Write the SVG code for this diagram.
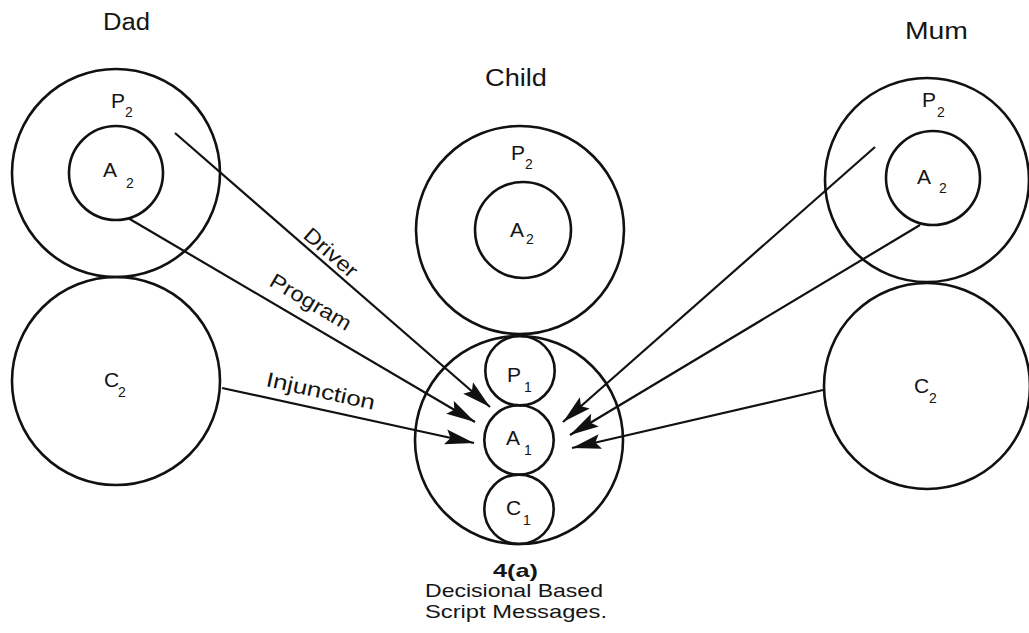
<svg xmlns="http://www.w3.org/2000/svg" width="1029" height="633" viewBox="0 0 1029 633">
<style>
.c{fill:none;stroke:#111;stroke-width:2.6}
.l{fill:none;stroke:#111;stroke-width:2.2}
text{font-family:"Liberation Sans",Arial,sans-serif;fill:#151515}
.t{font-size:23px}
.s{font-size:21px}
.sub{font-size:14px}
.lab{font-size:21px}
.cap{font-size:19px}
</style>
<defs>
<marker id="ah" viewBox="0 -8 30 16" markerWidth="30" markerHeight="16" refX="29" refY="0" orient="auto" markerUnits="userSpaceOnUse">
<path d="M0,-7.5 L29,0 L0,7.5 L5,0 z" fill="#111"/>
</marker>
</defs>
<rect width="1029" height="633" fill="#fff"/>

<g id="titles">
<text class="t" x="103" y="30" textLength="47" lengthAdjust="spacingAndGlyphs">Dad</text>
<text class="t" x="905" y="39" textLength="63" lengthAdjust="spacingAndGlyphs">Mum</text>
<text class="t" x="485" y="86" textLength="62" lengthAdjust="spacingAndGlyphs">Child</text>
</g>

<g id="dad-P2"><circle class="c" cx="116" cy="173" r="104"/>
<text class="s" x="111" y="108">P<tspan class="sub" x="125" y="117">2</tspan></text></g>
<g id="dad-A2"><circle class="c" cx="116" cy="173" r="47"/>
<text class="s" x="103" y="177">A<tspan class="sub" x="126" y="188">2</tspan></text></g>
<g id="dad-C2"><circle class="c" cx="116" cy="381" r="104"/>
<text class="s" x="104" y="387">C<tspan class="sub" x="118" y="397">2</tspan></text></g>

<g id="mum-P2"><circle class="c" cx="927" cy="180" r="102"/>
<text class="s" x="922" y="107">P<tspan class="sub" x="937" y="117">2</tspan></text></g>
<g id="mum-A2"><circle class="c" cx="933" cy="178" r="47"/>
<text class="s" x="917" y="184">A<tspan class="sub" x="939" y="193">2</tspan></text></g>
<g id="mum-C2"><circle class="c" cx="927" cy="386" r="103"/>
<text class="s" x="914" y="393">C<tspan class="sub" x="929" y="403">2</tspan></text></g>

<g id="child-P2"><circle class="c" cx="520" cy="230" r="104"/>
<text class="s" x="511" y="160">P<tspan class="sub" x="525" y="169">2</tspan></text></g>
<g id="child-A2"><circle class="c" cx="523" cy="230" r="48"/>
<text class="s" x="510" y="237">A<tspan class="sub" x="526" y="244">2</tspan></text></g>
<g id="child-lower"><circle class="c" cx="519" cy="440" r="104"/></g>
<g id="child-P1"><circle class="c" cx="520" cy="370.7" r="34.7"/>
<text class="s" x="507" y="382">P<tspan class="sub" x="524" y="392">1</tspan></text></g>
<g id="child-A1"><circle class="c" cx="519" cy="440" r="34.7"/>
<text class="s" x="506" y="445">A<tspan class="sub" x="524" y="455">1</tspan></text></g>
<g id="child-C1"><circle class="c" cx="519" cy="509.3" r="34.7"/>
<text class="s" x="506" y="515">C<tspan class="sub" x="523" y="525">1</tspan></text></g>

<g id="connectors">
<line class="l" x1="175" y1="133" x2="490" y2="407" marker-end="url(#ah)"/>
<line class="l" x1="128" y1="218" x2="475" y2="422" marker-end="url(#ah)"/>
<line class="l" x1="222" y1="388" x2="474" y2="443" marker-end="url(#ah)"/>
<line class="l" x1="875" y1="147" x2="563" y2="422" marker-end="url(#ah)"/>
<line class="l" x1="920" y1="225" x2="570" y2="435" marker-end="url(#ah)"/>
<line class="l" x1="823" y1="390" x2="572" y2="448" marker-end="url(#ah)"/>
<text class="lab" transform="translate(302,237) rotate(41)" textLength="64" lengthAdjust="spacingAndGlyphs">Driver</text>
<text class="lab" transform="translate(268,285) rotate(30.5)" textLength="91" lengthAdjust="spacingAndGlyphs">Program</text>
<text class="lab" transform="translate(265,386) rotate(12.4)" textLength="111" lengthAdjust="spacingAndGlyphs">Injunction</text>
</g>

<g id="caption">
<text class="cap" x="493" y="577" font-weight="bold" textLength="45" lengthAdjust="spacingAndGlyphs">4(a)</text>
<text class="cap" x="425" y="597" textLength="178" lengthAdjust="spacingAndGlyphs">Decisional Based</text>
<text class="cap" x="425" y="618" textLength="182" lengthAdjust="spacingAndGlyphs">Script Messages.</text>
</g>
</svg>
